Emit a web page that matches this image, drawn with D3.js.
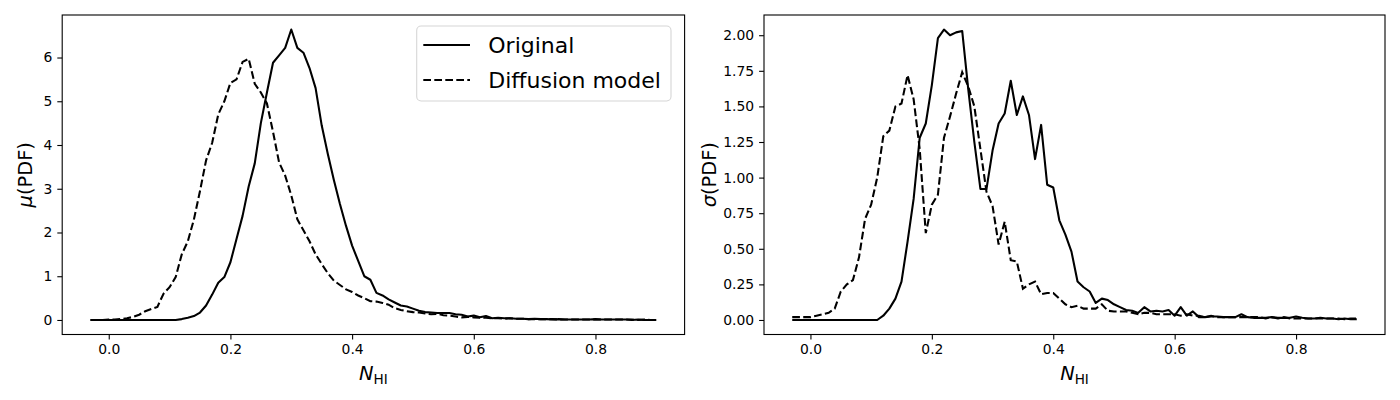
<!DOCTYPE html>
<html><head><meta charset="utf-8">
<script src="https://cdn.jsdelivr.net/npm/d3@7"></script>
<style>body{margin:0;background:#fff}svg{display:block}text{font-family:"DejaVu Sans",sans-serif}</style>
</head><body><svg id="c" width="1400" height="400"></svg>
<script>
const nhi = [-0.03,-0.02,-0.01,0.00,0.01,0.02,0.03,0.04,0.05,0.06,0.07,0.08,0.09,0.10,
0.11,0.12,0.13,0.14,0.15,0.16,0.17,0.18,0.19,0.20,0.21,0.22,0.23,0.24,0.25,0.26,0.27,0.28,0.29,0.30,
0.31,0.32,0.33,0.34,0.35,0.36,0.37,0.38,0.39,0.40,0.41,0.42,0.43,0.44,0.45,0.46,0.47,0.48,0.49,0.50,
0.51,0.52,0.53,0.54,0.55,0.56,0.57,0.58,0.59,0.60,0.61,0.62,0.63,0.64,0.65,0.66,0.67,0.68,0.69,0.70,
0.71,0.72,0.73,0.74,0.75,0.76,0.77,0.78,0.79,0.80,0.81,0.82,0.83,0.84,0.85,0.86,0.87,0.88,0.89,0.90];

const muOriginal = [0,0,0,0,0,0,0,0,0,0,0,0,0,0,
0.0,0.02,0.05,0.09,0.17,0.33,0.58,0.85,0.98,1.32,1.85,2.38,3.05,3.58,4.5,5.2,5.88,6.05,6.22,6.64,
6.22,6.11,5.76,5.30,4.45,3.8,3.2,2.65,2.15,1.7,1.35,1.0,0.92,0.62,0.56,0.47,0.40,0.33,0.31,0.26,
0.21,0.18,0.17,0.16,0.16,0.16,0.13,0.12,0.08,0.10,0.06,0.09,0.04,0.05,0.04,0.04,0.03,0.03,0.02,0.03,
0.02,0.02,0.01,0.02,0.01,0.01,0.01,0.01,0.01,0.02,0.01,0.01,0.01,0.01,0.01,0.0,0.01,0.0,0.0,0.0];

const muDiffusion = [0.0,0.0,0.0,0.01,0.01,0.02,0.04,0.07,0.12,0.2,0.25,0.3,0.6,0.75,
0.98,1.5,1.8,2.3,2.95,3.65,4.05,4.7,5.0,5.42,5.5,5.9,5.97,5.4,5.2,4.95,4.3,3.6,3.3,2.85,
2.3,2.05,1.8,1.5,1.28,1.07,0.9,0.8,0.7,0.64,0.56,0.5,0.43,0.42,0.39,0.35,0.27,0.23,0.2,0.18,
0.17,0.15,0.13,0.14,0.11,0.1,0.08,0.06,0.07,0.06,0.05,0.05,0.04,0.04,0.03,0.04,0.03,0.03,0.02,0.02,
0.02,0.02,0.02,0.01,0.01,0.01,0.01,0.01,0.01,0.01,0.01,0.01,0.01,0.01,0.01,0.01,0.0,0.01,0.0,0.0];

const sigmaOriginal = [0,0,0,0,0,0,0,0,0,0,0,0,0,0,
0,0.03,0.08,0.15,0.27,0.55,0.85,1.28,1.38,1.65,1.98,2.04,2.00,2.02,2.03,1.62,1.25,0.92,0.92,1.19,
1.38,1.45,1.68,1.44,1.57,1.44,1.13,1.37,0.95,0.93,0.70,0.60,0.48,0.27,0.23,0.20,0.12,0.15,0.14,0.11,
0.09,0.07,0.065,0.05,0.09,0.06,0.065,0.06,0.07,0.03,0.09,0.03,0.06,0.02,0.02,0.025,0.025,0.02,0.02,0.02,
0.04,0.02,0.015,0.015,0.015,0.02,0.015,0.015,0.015,0.025,0.015,0.01,0.01,0.015,0.01,0.01,0.005,0.01,0.005,0.005];

const sigmaDiffusion = [0.02,0.02,0.02,0.02,0.03,0.04,0.05,0.08,0.2,0.25,0.28,0.44,0.71,0.81,
1.0,1.29,1.33,1.5,1.52,1.72,1.55,1.2,0.61,0.81,0.88,1.28,1.43,1.59,1.74,1.64,1.5,1.2,0.9,0.8,
0.53,0.69,0.42,0.41,0.22,0.25,0.27,0.18,0.19,0.19,0.15,0.11,0.09,0.10,0.08,0.08,0.08,0.11,0.065,0.06,
0.06,0.06,0.05,0.04,0.05,0.05,0.04,0.04,0.04,0.04,0.03,0.04,0.03,0.03,0.02,0.03,0.02,0.02,0.02,0.02,
0.02,0.02,0.02,0.02,0.01,0.02,0.01,0.02,0.01,0.01,0.01,0.01,0.01,0.01,0.01,0.01,0.01,0.005,0.01,0.01];

const xTicks = [0.0,0.2,0.4,0.6,0.8];
const muTicks = [0,1,2,3,4,5,6];
const sigmaTicks = [0.00,0.25,0.50,0.75,1.00,1.25,1.50,1.75,2.00];
const legendLabels = ["Original","Diffusion model"];

const svg = d3.select("#c");
const axTop = 15, axBottom = 334.5;
const dash = "7.7,3.3";

function pad(ext){const d=(ext[1]-ext[0])*0.05;return [ext[0]-d,ext[1]+d];}

function panel(left, right, s1, s2, yTicks, yFmt, yLabelSym, yLabelX){
  const xd = pad(d3.extent(nhi));
  const yd = pad(d3.extent(s1.concat(s2)));
  const x = d3.scaleLinear().domain(xd).range([left,right]);
  const y = d3.scaleLinear().domain(yd).range([axBottom,axTop]);
  const g = svg.append("g");
  const line = d3.line().x((d,i)=>x(nhi[i])).y(d=>y(d));
  g.append("path").datum(s1).attr("d",line).attr("fill","none").attr("stroke","#000").attr("stroke-width",2.08).attr("stroke-linejoin","round");
  g.append("path").datum(s2).attr("d",line).attr("fill","none").attr("stroke","#000").attr("stroke-width",2.08).attr("stroke-dasharray",dash);
  const xa = g.append("g").attr("transform",`translate(0,${axBottom})`)
    .call(d3.axisBottom(x).tickValues(xTicks).tickFormat(d3.format(".1f")).tickSize(4.9).tickPadding(4.9).tickSizeOuter(0));
  const ya = g.append("g").attr("transform",`translate(${left},0)`)
    .call(d3.axisLeft(y).tickValues(yTicks).tickFormat(yFmt).tickSize(4.9).tickPadding(4.9).tickSizeOuter(0));
  [xa,ya].forEach(a=>{a.select(".domain").remove();a.selectAll("text").attr("font-size",13.9).attr("fill","#000").style("font-family","DejaVu Sans");a.selectAll("line").attr("stroke","#000").attr("stroke-width",1.1);});
  g.append("rect").attr("x",left).attr("y",axTop).attr("width",right-left).attr("height",axBottom-axTop).attr("fill","none").attr("stroke","#000").attr("stroke-width",1.1);
  const xl = g.append("text").attr("x",(left+right)/2).attr("y",380).attr("text-anchor","middle").attr("font-size",19.4);
  xl.append("tspan").text("N").attr("font-style","italic");
  xl.append("tspan").text("HI").attr("font-size",13.6).attr("dy",4);
  const yl = g.append("text").attr("transform",`translate(${yLabelX},${(axTop+axBottom)/2}) rotate(-90)`).attr("text-anchor","middle").attr("font-size",19.4);
  yl.append("tspan").text(yLabelSym).attr("font-style","italic");
  yl.append("tspan").text("(PDF)");
  return g;
}

panel(62.2, 684.6, muOriginal, muDiffusion, muTicks, d3.format("d"), "μ", 31.5);
panel(764, 1385, sigmaOriginal, sigmaDiffusion, sigmaTicks, d3.format(".2f"), "σ", 715.5);

const lg = svg.append("g");
lg.append("rect").attr("x",416.7).attr("y",26).attr("width",254.3).attr("height",75).attr("rx",4.4)
  .attr("fill","#fff").attr("fill-opacity",0.8).attr("stroke","#d6d6d6").attr("stroke-width",1.1);
legendLabels.forEach((t,i)=>{
  const yy = 45 + i*35;
  lg.append("line").attr("x1",423.3).attr("x2",470).attr("y1",yy).attr("y2",yy).attr("stroke","#000").attr("stroke-width",2.08).attr("stroke-dasharray", i===1?dash:null);
  lg.append("text").attr("x",488.3).attr("y",yy+8).attr("font-size",22).text(t);
});
</script></body></html>
